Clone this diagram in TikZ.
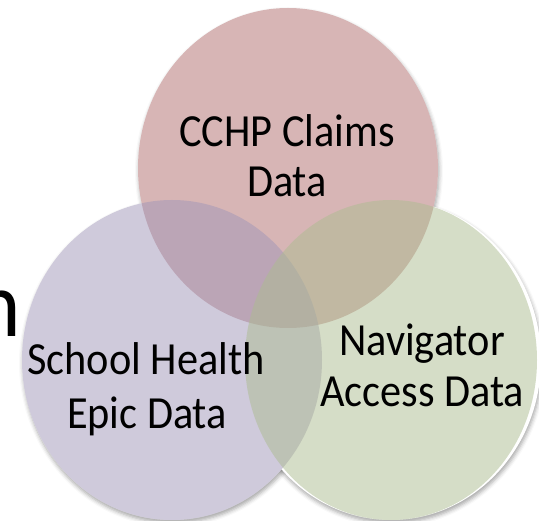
\documentclass[tikz,border=0pt]{standalone}
\usepackage{fontspec}
\setmainfont{Carlito}[FakeStretch=0.92]
\usetikzlibrary{shadows.blur,shapes.geometric}
\definecolor{redc}{RGB}{176,108,108}
\definecolor{purc}{RGB}{160,150,184}
\definecolor{grnc}{RGB}{172,188,144}
\tikzset{
  blob/.style={ellipse, minimum width=300pt, minimum height=320pt, inner sep=0pt, draw=none},
  shad/.style={blur shadow={shadow xshift=1pt, shadow yshift=-3pt, shadow blur radius=4pt, shadow opacity=35}},
  lbl/.style={anchor=base, inner sep=0pt, font=\fontsize{46}{50}\selectfont},
}
\begin{document}
\begin{tikzpicture}[x=1pt,y=-1pt]
\useasboundingbox (0,0) rectangle (539,521);
% shadows
\node[blob, shad] at (288,168) {};
\node[blob, shad] at (172,360) {};
\node[blob, shad] at (391,360) {};
% white backing
\node[blob, fill=white] at (288,168) {};
\node[blob, fill=white] at (172,360) {};
\node[blob, fill=white] at (391,360) {};
% coloured circles
\node[blob, fill=redc, fill opacity=0.5] (red) at (288,168) {};
\node[blob, fill=purc, fill opacity=0.5] (pur) at (172,360) {};
\node[blob, fill=grnc, fill opacity=0.5, minimum width=292pt] (grn) at (391,360) {};
% labels
\node[lbl] (r1) at (287,147) {CCHP Claims};
\node[lbl] (r2) at (287,197) {Data};
\node[lbl] (p1) at (146,375) {School Health};
\node[lbl] (p2) at (147,429) {Epic Data};
\node[lbl] (g1) at (422,356) {Navigator};
\node[lbl] (g2) at (422,407) {Access Data};
% cut-off title letter
\node[anchor=base east, inner sep=0pt, font=\fontsize{94}{100}\selectfont] (tn) at (21,337) {n};
\end{tikzpicture}
\end{document}
